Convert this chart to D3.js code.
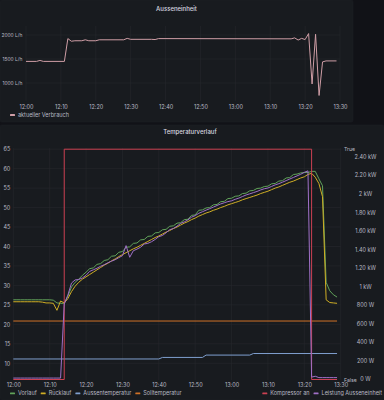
<!DOCTYPE html>
<html>
<head>
<meta charset="utf-8">
<script src="https://cdn.jsdelivr.net/npm/d3@7"></script>
<style>
  body { margin: 0; background: #111217; }
  text { font-family: Inter, "Noto Sans", sans-serif; }
</style>
</head>
<body>
<div id="chart"></div>
<script>
// ---- Daten ----
const startTime = new Date(2023, 0, 1, 12, 0);

// Ausseneinheit: aktueller Verbrauch (Minute seit 12:00, L/h)
const verbrauchMin = [0, 3, 4, 5, 11, 12, 13, 14, 16, 17, 18, 20, 21, 28, 29, 30, 36, 37, 38, 76, 77, 78, 79, 80, 81, 82, 83, 84, 85, 86, 89];
const verbrauchVal = [1450, 1450, 1470, 1450, 1450, 1925, 1870, 1880, 1880, 1900, 1880, 1880, 1900, 1900, 1930, 1910, 1910, 1905, 1925, 1920, 1940, 1895, 1930, 1905, 2030, 980, 2015, 740, 1440, 1460, 1460];
const verbrauchTicks = [1000, 1500, 2000];

// Temperaturverlauf: Werte pro Minute ab 12:00
const vorlauf = [
  26.3, 26.3, 26.3, 26.3, 26.3, 26.3, 26.3, 26.3, 26.3, 26.3, 26.3, 26.2, 25.5, 25.4, 25.4,
  27.2, 29.6, 30.8, 31.6, 32.6, 33.4, 34.3, 34.5, 35.4, 35.6,
  36.4, 36.6, 37.5, 37.6, 38.5, 38.7, 39.8, 39.9, 40.8, 40.9,
  41.7, 41.8, 42.6, 42.7, 43.5, 43.6, 44.3, 44.4, 45.2, 45.3,
  46.0, 46.1, 46.9, 47.0, 48.0, 48.1, 49.3, 49.4, 49.9, 50.0,
  50.7, 50.8, 51.5, 51.6, 52.3, 52.4, 52.9, 53.0, 53.6, 53.7,
  54.3, 54.4, 54.9, 55.0, 55.4, 55.5, 56.1, 56.2, 56.8, 56.9,
  57.6, 57.7, 58.5, 58.6, 58.9, 59.0, 59.0, 59.3, 59.3, 57.4,
  55.6, 30.8, 28.6, 27.6, 27.0
];
const ruecklauf = [
  25.8, 25.8, 25.8, 25.8, 25.8, 25.8, 25.8, 25.8, 25.7, 25.5, 25.5, 25.4, 23.6, 26.0, 25.5,
  26.6, 28.4, 29.8, 30.8, 31.6, 32.2, 32.8, 33.4, 34.0, 34.6,
  35.2, 35.7, 36.3, 36.8, 37.4, 37.9, 38.4, 38.9, 39.4, 39.8,
  40.3, 40.8, 41.3, 41.8, 42.3, 42.7, 43.2, 43.7, 44.1, 44.6,
  45.0, 45.5, 46.0, 46.4, 46.9, 47.3, 47.8, 48.2, 48.6, 48.9,
  49.3, 49.6, 50.0, 50.3, 50.7, 51.0, 51.3, 51.6, 52.0, 52.3,
  52.6, 52.9, 53.2, 53.6, 53.9, 54.2, 54.6, 55.0, 55.3, 55.7,
  56.1, 56.5, 56.8, 57.2, 57.6, 57.9, 58.5, 58.8, 57.8, 56.2,
  52.8, 26.3, 25.6, 25.5, 25.4
];
// Leistung Ausseneinheit (W)
const leistung = [
  10, 10, 10, 10, 10, 10, 10, 10, 10, 10, 10, 10, 10, 10, 810,
  906, 1036, 1070, 1074, 1091, 1120, 1162, 1179, 1196, 1217,
  1234, 1255, 1272, 1288, 1310, 1331, 1440, 1314, 1385, 1402,
  1423, 1457, 1465, 1482, 1507, 1537, 1549, 1579, 1612, 1625,
  1650, 1680, 1696, 1718, 1747, 1764, 1789, 1806, 1823, 1839,
  1856, 1873, 1890, 1903, 1915, 1924, 1940, 1953, 1970, 1987,
  1999, 2012, 2025, 2041, 2054, 2062, 2079, 2096, 2109, 2125,
  2142, 2159, 2176, 2193, 2210, 2231, 2247, 20, 30, 15,
  15, 15, 15, 15, 15
];
const aussenMin = [0, 40, 41, 52, 53, 65, 66, 89];
const aussenVal = [11.1, 11.1, 11.5, 11.5, 12.1, 12.1, 12.5, 12.5];
const sollMin = [0, 89];
const sollVal = [20.85, 20.85];
const kompMin = [0, 14, 82, 89];
const kompVal = [0, 1, 0, 0];

const tempTicks = [10, 15, 20, 25, 30, 35, 40, 45, 50, 55, 60, 65];
const powerTicks = [0, 200, 400, 600, 800, 1000, 1200, 1400, 1600, 1800, 2000, 2200, 2400];

const colors = {
  verbrauch: "#cf9ea6",
  vorlauf: "#61a35a",
  ruecklauf: "#cfae25",
  aussen: "#7f9fcf",
  soll: "#cf7127",
  komp: "#cc4152",
  leistung: "#a070c8"
};

// ---- Hilfsfunktionen ----
const toTime = m => new Date(startTime.getTime() + m * 60000);
const perMinute = arr => arr.map((v, i) => ({ t: toTime(i), v }));
const pairs = (mins, vals) => mins.map((m, i) => ({ t: toTime(m), v: vals[i] }));

const width = 384, height = 400;
const textCol = "#b9bac4", gridCol = "#26282e", panelBg = "#181b1f";
const fs = "5.5px";

const svg = d3.select("#chart")
  .append("svg")
  .attr("width", width)
  .attr("height", height)
  .style("display", "block")
  .style("background", "#111217");

// Panels
svg.append("rect").attr("x", 0).attr("y", 0).attr("width", 353).attr("height", 122)
  .attr("rx", 2).attr("fill", panelBg).attr("stroke", "#1f2126").attr("stroke-width", 0.5);
svg.append("rect").attr("x", 0).attr("y", 125).attr("width", 384).attr("height", 275)
  .attr("rx", 2).attr("fill", panelBg).attr("stroke", "#1f2126").attr("stroke-width", 0.5);

function title(txt, x, y) {
  svg.append("text").attr("x", x).attr("y", y).attr("text-anchor", "middle")
    .attr("dominant-baseline", "middle").attr("font-size", "6px").attr("font-weight", 500)
    .attr("fill", "#d8d9e0").text(txt);
}
title("Ausseneinheit", 176.5, 9.8);
title("Temperaturverlauf", 190, 132.8);

function styleAxis(g) {
  g.select(".domain").remove();
  g.selectAll("line").remove();
  g.selectAll("text").attr("fill", textCol).attr("font-size", fs)
    .style("font-family", "Inter, 'Noto Sans', sans-serif");
}

// ---- Oberes Panel ----
const xTop = d3.scaleTime().domain([toTime(0), toTime(90)]).range([26, 340]);
const yTop = d3.scaleLinear().domain([1000, 2000]).range([83, 35]);
const topTimeTicks = xTop.ticks(d3.timeMinute.every(10));

svg.append("g").selectAll("line").data(topTimeTicks).enter().append("line")
  .attr("x1", d => xTop(d)).attr("x2", d => xTop(d))
  .attr("y1", 26).attr("y2", 101)
  .attr("stroke", gridCol).attr("stroke-width", 0.6);
svg.append("g").selectAll("line").data(verbrauchTicks).enter().append("line")
  .attr("x1", 26).attr("x2", 340)
  .attr("y1", d => yTop(d)).attr("y2", d => yTop(d))
  .attr("stroke", gridCol).attr("stroke-width", 0.6);

svg.append("g").attr("transform", "translate(25,0)")
  .call(d3.axisLeft(yTop).tickValues(verbrauchTicks).tickFormat(d => d + " L/h").tickSize(0).tickPadding(2.5))
  .call(styleAxis)
  .call(g => g.selectAll("text").attr("font-size", "4.9px"));
svg.append("g").attr("transform", "translate(0,102.5)")
  .call(d3.axisBottom(xTop).tickValues(topTimeTicks).tickFormat(d3.timeFormat("%H:%M")).tickSize(0).tickPadding(3))
  .call(styleAxis);

svg.append("path")
  .datum(pairs(verbrauchMin, verbrauchVal))
  .attr("fill", "none")
  .attr("stroke", colors.verbrauch)
  .attr("stroke-width", 1)
  .attr("stroke-linejoin", "round")
  .attr("d", d3.line().x(d => xTop(d.t)).y(d => yTop(d.v)));

function legend(items, y, xStart, alignRight) {
  const g = svg.append("g");
  const nodes = items.map(it => {
    const sw = g.append("rect").attr("width", 5).attr("height", 1.8).attr("rx", 0.5)
      .attr("fill", it.color).attr("y", y - 0.9);
    const tx = g.append("text").attr("y", y).attr("dominant-baseline", "middle")
      .attr("font-size", fs).attr("fill", textCol).text(it.name);
    return { sw, tx, w: tx.node().getComputedTextLength() };
  });
  if (!alignRight) {
    let x = xStart;
    nodes.forEach(n => {
      n.sw.attr("x", x);
      n.tx.attr("x", x + 8);
      x += 8 + n.w + 4;
    });
  } else {
    let x = xStart;
    for (let i = nodes.length - 1; i >= 0; i--) {
      const n = nodes[i];
      n.tx.attr("x", x - n.w);
      n.sw.attr("x", x - n.w - 8);
      x = x - n.w - 8 - 4;
    }
  }
}
legend([{ name: "aktueller Verbrauch", color: colors.verbrauch }], 115, 10, false);

// ---- Unteres Panel ----
const xB = d3.scaleTime().domain([toTime(0), toTime(90)]).range([13.3, 340.7]);
const yL = d3.scaleLinear().domain([5.7, 65.3]).range([380, 148]);
const yW = d3.scaleLinear().domain([0, 2400]).range([379, 156.7]);
const yB = d3.scaleLinear().domain([0, 1]).range([379.5, 149.2]);
const bTimeTicks = xB.ticks(d3.timeMinute.every(10));

svg.append("g").selectAll("line").data(bTimeTicks).enter().append("line")
  .attr("x1", d => xB(d)).attr("x2", d => xB(d))
  .attr("y1", 148).attr("y2", 380)
  .attr("stroke", gridCol).attr("stroke-width", 0.6);
svg.append("g").selectAll("line").data(tempTicks).enter().append("line")
  .attr("x1", 13.3).attr("x2", 340.7)
  .attr("y1", d => yL(d)).attr("y2", d => yL(d))
  .attr("stroke", gridCol).attr("stroke-width", 0.6);

svg.append("g").attr("transform", "translate(13.3,0)")
  .call(d3.axisLeft(yL).tickValues(tempTicks).tickSize(0).tickPadding(3))
  .call(styleAxis);
svg.append("g").attr("transform", "translate(0,380.5)")
  .call(d3.axisBottom(xB).tickValues(bTimeTicks).tickFormat(d3.timeFormat("%H:%M")).tickSize(0).tickPadding(3))
  .call(styleAxis);

const powerFmt = v => v < 1000 ? v + " W" : (v % 1000 === 0 ? (v / 1000) + " kW" : (v / 1000).toFixed(2) + " kW");
svg.append("g").attr("transform", "translate(365.5,0)")
  .call(d3.axisRight(yW).tickValues(powerTicks).tickFormat(powerFmt).tickSize(0).tickPadding(0))
  .call(styleAxis)
  .call(g => g.selectAll("text").attr("text-anchor", "middle").attr("x", 0));
svg.append("g").attr("transform", "translate(344,0)")
  .call(d3.axisRight(yB).tickValues([0, 1]).tickFormat(d => d ? "True" : "False").tickSize(0).tickPadding(0))
  .call(styleAxis)
  .call(g => g.selectAll("text").attr("font-size", "5.2px"));

const lineL = d3.line().x(d => xB(d.t)).y(d => yL(d.v));
function drawSeries(data, gen, color) {
  svg.append("path").datum(data)
    .attr("fill", "none").attr("stroke", color).attr("stroke-width", 1)
    .attr("stroke-linejoin", "round").attr("d", gen);
}
drawSeries(perMinute(vorlauf), lineL, colors.vorlauf);
drawSeries(perMinute(ruecklauf), lineL, colors.ruecklauf);
drawSeries(pairs(aussenMin, aussenVal), lineL, colors.aussen);
drawSeries(pairs(sollMin, sollVal), lineL, colors.soll);
drawSeries(pairs(kompMin, kompVal),
  d3.line().curve(d3.curveStepAfter).x(d => xB(d.t)).y(d => yB(d.v)), colors.komp);
drawSeries(perMinute(leistung),
  d3.line().x(d => xB(d.t)).y(d => yW(d.v)), colors.leistung);

legend([
  { name: "Vorlauf", color: colors.vorlauf },
  { name: "Rücklauf", color: colors.ruecklauf },
  { name: "Aussentemperatur", color: colors.aussen },
  { name: "Solltemperatur", color: colors.soll }
], 393.3, 10, false);
legend([
  { name: "Kompressor an", color: colors.komp },
  { name: "Leistung Ausseneinheit", color: colors.leistung }
], 393.3, 382, true);
</script>
</body>
</html>
